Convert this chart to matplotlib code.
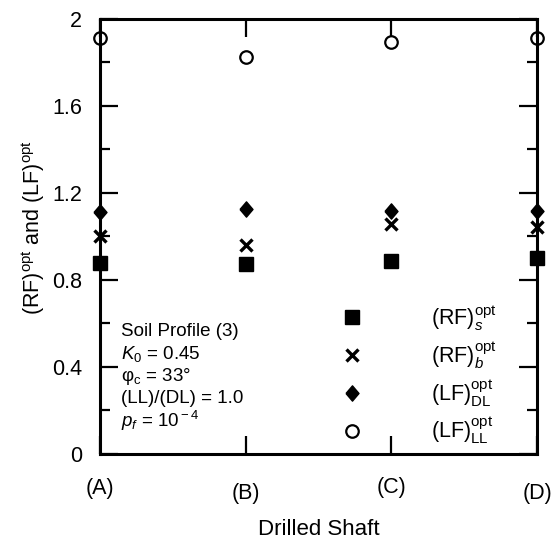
import matplotlib as mpl
mpl.use('Agg')
import matplotlib.pyplot as plt
from matplotlib.ticker import MultipleLocator, FuncFormatter

plt.rcParams['font.family'] = ['Liberation Sans', 'DejaVu Sans']
plt.rcParams['mathtext.fontset'] = 'custom'
plt.rcParams['mathtext.rm'] = 'Liberation Sans'
plt.rcParams['mathtext.it'] = 'Liberation Sans:italic'
plt.rcParams['mathtext.bf'] = 'Liberation Sans:bold'

# drilled shafts and optimum factors
shafts = ['(A)', '(B)', '(C)', '(D)']
rf_s = [0.878, 0.874, 0.887, 0.901]
rf_b = [1.002, 0.961, 1.057, 1.044]
lf_dl = [1.113, 1.126, 1.117, 1.117]
lf_ll = [1.913, 1.825, 1.894, 1.913]

pos = list(range(len(shafts)))

# slightly tall diamond
diamond = [(-0.85, 0), (0, 1), (0.85, 0), (0, -1), (-0.85, 0)]

fig = plt.figure(figsize=(5.55, 5.43), dpi=100)
ax = fig.add_axes([0.180, 0.164, 0.7876, 0.801])

common = dict(linestyle='none', clip_on=False, zorder=5, color='black')
ax.plot(pos, rf_s, marker='s', markersize=9.5, label=r'(RF)$_{s}^{\rm opt}$', **common)
ax.plot(pos, rf_b, marker='x', markersize=8.5, markeredgewidth=2.4,
        label=r'(RF)$_{b}^{\rm opt}$', **common)
ax.plot(pos, lf_dl, marker=diamond, markersize=11, label=r'(LF)$_{\rm DL}^{\rm opt}$', **common)
ax.plot(pos, lf_ll, marker='o', markersize=9, markerfacecolor='none',
        markeredgewidth=1.6, label=r'(LF)$_{\rm LL}^{\rm opt}$', **common)

ax.set_xlim(0, 3)
ax.set_ylim(0, 2)

for sp in ax.spines.values():
    sp.set_linewidth(2.2)

ax.yaxis.set_major_locator(MultipleLocator(0.4))
ax.yaxis.set_minor_locator(MultipleLocator(0.2))
ax.yaxis.set_major_formatter(FuncFormatter(lambda v, p: '%g' % round(v, 1)))
ax.tick_params(axis='y', which='major', direction='in', length=13, width=1.6,
               left=True, right=True, labelsize=15.5, pad=13)
ax.tick_params(axis='y', which='minor', direction='in', length=7, width=1.6,
               left=True, right=True)

ax.set_xticks(pos)
ax.set_xticklabels(shafts)
ax.tick_params(axis='x', direction='in', length=13, width=1.6, top=True,
               bottom=True, labelsize=15.5, pad=17)
for i, lab in enumerate(ax.get_xticklabels()):
    lab.set_y([0.0, -0.012, 0.002, -0.012][i])

ax.set_xlabel('Drilled Shaft', fontsize=16, labelpad=11)
ax.set_ylabel(r'(RF)$^{\rm opt}$ and (LF)$^{\rm opt}$', fontsize=15.5)
ax.yaxis.set_label_coords(-0.12, 0.52)

# soil and loading notes
notes = ['Soil Profile (3)', r'$K_{\rm 0}$ = 0.45', r'φ$_{\rm c}$ = 33°',
         '(LL)/(DL) = 1.0', r'$p_f$ = 10$^{\rm -4}$']
for i, t in enumerate(notes):
    ax.text(0.048, 0.281 - i * 0.051, t, transform=ax.transAxes,
            fontsize=13.5, va='center', ha='left')

ax.legend(loc='lower right', bbox_to_anchor=(0.954, -0.027), frameon=False,
          fontsize=15.5, handlelength=1.0, handletextpad=3.2, labelspacing=0.3,
          numpoints=1)

fig.savefig('out.png', dpi=100)
